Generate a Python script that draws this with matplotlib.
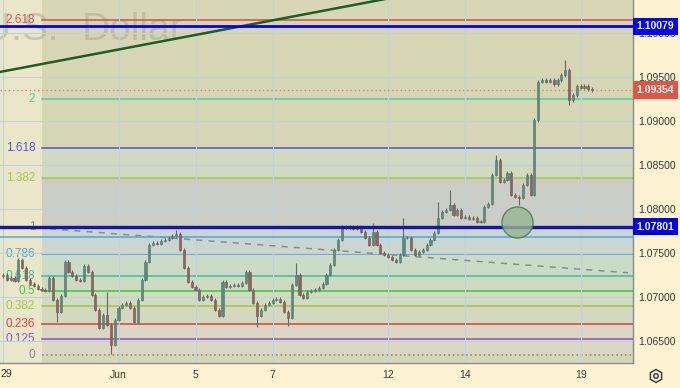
import matplotlib
matplotlib.use("Agg")
import matplotlib.pyplot as plt
import matplotlib.transforms as mtransforms
from matplotlib.patches import RegularPolygon, Circle
import numpy as np

plt.rcParams['font.family'] = ['Liberation Sans', 'DejaVu Sans']

# EUR/USD candles, 10 per trading day
first_open = 1.0724
closes = [
    # May 29
    1.07257, 1.07200, 1.07223, 1.07189, 1.07427, 1.07336, 1.07200, 1.07155, 1.07132, 1.07098,
    # May 30
    1.07087, 1.07075, 1.07223, 1.06973, 1.06837, 1.07018, 1.07404, 1.07291, 1.07245, 1.07200,
    # May 31
    1.07189, 1.07359, 1.07291, 1.07030, 1.06860, 1.06655, 1.06803, 1.06689, 1.06462, 1.06746,
    # Jun 1
    1.06882, 1.06916, 1.06939, 1.06882, 1.06723, 1.06973, 1.07200, 1.07404, 1.07597, 1.07620,
    # Jun 2
    1.07608, 1.07642, 1.07654, 1.07676, 1.07699, 1.07722, 1.07540, 1.07336, 1.07177, 1.07120,
    # Jun 5
    1.07087, 1.06973, 1.07007, 1.07018, 1.06973, 1.06860, 1.06791, 1.07177, 1.07120, 1.07132,
    # Jun 6
    1.07143, 1.07132, 1.07166, 1.07291, 1.07087, 1.06939, 1.06791, 1.06860, 1.06916, 1.06939,
    # Jun 7
    1.06973, 1.06984, 1.06950, 1.06837, 1.06769, 1.07143, 1.07257, 1.07030, 1.06996, 1.07064,
    # Jun 8
    1.07075, 1.07087, 1.07109, 1.07155, 1.07257, 1.07370, 1.07540, 1.07654, 1.07801, 1.07790,
    # Jun 9
    1.07801, 1.07779, 1.07801, 1.07745, 1.07676, 1.07597, 1.07745, 1.07597, 1.07506, 1.07484,
    # Jun 12
    1.07461, 1.07427, 1.07404, 1.07484, 1.07676, 1.07676, 1.07540, 1.07484, 1.07518, 1.07540,
    # Jun 13
    1.07597, 1.07654, 1.07733, 1.07903, 1.07972, 1.07994, 1.08051, 1.07937, 1.07994, 1.07903,
    # Jun 14
    1.07915, 1.07892, 1.07903, 1.07858, 1.07858, 1.08028, 1.08062, 1.08391, 1.08562, 1.08312,
    # Jun 15
    1.08335, 1.08414, 1.08164, 1.08142, 1.08130, 1.08278, 1.08391, 1.08164, 1.09015, 1.09447,
    # Jun 16
    1.09469, 1.09447, 1.09469, 1.09424, 1.09469, 1.09526, 1.09583, 1.09242, 1.09299, 1.09401,
    # Jun 19
    1.09379, 1.09401, 1.09367, 1.09354,
]
extra_high = {27: 1.07064, 45: 1.07767, 76: 1.07393, 96: 1.07847, 104: 1.07903,
              113: 1.08085, 116: 1.08221, 128: 1.08618, 146: 1.09696}
extra_low = {14: 1.06723, 28: 1.0636, 66: 1.06667, 74: 1.06678, 134: 1.08051, 147: 1.09186}

candles_per_day = 10
date_pos = [0, 3, 5, 7, 10, 12, 15]
date_labels = ['29', 'Jun', '5', '7', '12', '14', '19']
price_ticks = [1.065, 1.070, 1.075, 1.080, 1.085, 1.090, 1.095, 1.100]

fib_zero = 1.0635
fib_one = 1.07801
fib_start = 1.0
fib_levels = [0, 0.125, 0.236, 0.382, 0.5, 0.618, 0.786, 1, 1.382, 1.618, 2, 2.618]
fib_labels = ['0', '0.125', '0.236', '0.382', '0.5', '0.618', '0.786', '1', '1.382', '1.618', '2', '2.618']
fib_colors = ['#8a8a8a', '#8d5ccc', '#e04a4a', '#a2c850', '#46c846', '#48c09a', '#4aa8e0',
              '#8a8a8a', '#a2cc50', '#5a5ad0', '#5ad0a0', '#d05a5a']
band_colors = ['#dcd7c3', '#dbd6c3', '#d3d9c1', '#d1dbc0', '#cedbc4', '#ccdac8', '#cad6cf',
               '#cbcdc7', '#d0d9c1', '#d5d6b6', '#d6d6b4']

last_price = 1.09354
resistance = 1.10079
support = 1.07801
minor_line = 1.07691

trend_x = [-0.5, 11.0]
trend_y = [1.09525, 1.10477]
dash_x = [1.22, 16.23]
dash_y = [1.07779, 1.07279]
circle_day, circle_price = 13.36, 1.07858

xlim = (-0.078, 16.36)
ylim = (1.06255, 1.10377)

fig = plt.figure(figsize=(6.8, 3.88), dpi=100, facecolor='#fdf3d2')
ax = fig.add_axes([0, 25 / 388, 633 / 680, 363 / 388])
ax.set_facecolor('#d7d7b5')
ax.set_xlim(*xlim)
ax.set_ylim(*ylim)

# background: light strip left of the fib tool, then the fib bands
ax.axvspan(xlim[0], fib_start, color='#e9e6c9', lw=0, zorder=0)
rng = fib_one - fib_zero
fib_prices = [fib_zero + lv * rng for lv in fib_levels]
xfrac = (fib_start - xlim[0]) / (xlim[1] - xlim[0])
for i in range(len(fib_levels) - 1):
    ax.axhspan(fib_prices[i], fib_prices[i + 1], xmin=xfrac, xmax=1, color=band_colors[i], lw=0, zorder=0)

ax.set_xticks(date_pos)
ax.set_xticklabels([''] + date_labels[1:])
ax.text(0, -0.031, date_labels[0], transform=ax.transAxes, ha='left', va='center',
        fontsize=7.5, color='#333333', clip_on=False)
ax.set_yticks(price_ticks)
ax.set_yticklabels(['%.5f' % p for p in price_ticks])
ax.yaxis.tick_right()
ax.grid(True, color='#c3d2d6', lw=0.8, zorder=0.5)
ax.tick_params(axis='both', length=0, labelsize=7.5, colors='#3a3a3a')
ax.tick_params(axis='y', pad=4)
ax.tick_params(axis='x', pad=5)
for s in ['top', 'left']:
    ax.spines[s].set_visible(False)
for s in ['right', 'bottom']:
    ax.spines[s].set_color('#8a8a8a')
    ax.spines[s].set_linewidth(1)

# watermark, cut at the left edge
ax.text(1.43, 1.09923, 'U.S.', ha='right', va='baseline', fontsize=28,
        color='#a0a08a', alpha=0.45, zorder=0.6, clip_on=True)
ax.text(2.05, 1.09923, 'Dollar', ha='left', va='baseline', fontsize=28,
        color='#a0a08a', alpha=0.45, zorder=0.6, clip_on=True)

# fib lines and labels
for p, lab, col in zip(fib_prices, fib_labels, fib_colors):
    ls = ':' if lab == '0' else '-'
    ax.plot([fib_start, xlim[1]], [p, p], color=col, lw=1.2, ls=ls, zorder=1)
    ax.text(0.84, p, lab, ha='right', va='center', fontsize=8.5, color=col, zorder=1.5)

# candles
c = np.array(closes)
o = np.concatenate([[first_open], c[:-1]])
hi = np.maximum(o, c) + 0.00018
lo = np.minimum(o, c) - 0.00018
for k, v in extra_high.items():
    hi[k] = max(hi[k], v)
for k, v in extra_low.items():
    lo[k] = min(lo[k], v)
x = np.arange(len(c)) / candles_per_day
up = c >= o
body = np.where(np.abs(c - o) < 0.00004, 0.00004, c - o)
ax.vlines(x, lo, hi, color='#666666', lw=0.8, zorder=3)
ax.bar(x[up], body[up], bottom=o[up], width=0.055, color='#5f8a78', edgecolor='#55776a', lw=0.4, zorder=3.5)
ax.bar(x[~up], body[~up], bottom=o[~up], width=0.055, color='#8c6460', edgecolor='#735552', lw=0.4, zorder=3.5)

# drawings
ax.plot(trend_x, trend_y, color='#1e5e22', lw=1.8, zorder=4)
ax.plot(dash_x, dash_y, color='#8c8c8c', lw=1.1, ls=(0, (4, 4)), zorder=2)
ax.axhline(minor_line, color='#4aa8e0', lw=1.1, zorder=2)
ax.axhline(resistance, color='#0000ff', lw=2, zorder=4)
ax.axhline(support, color='#1414b4', lw=2.4, zorder=4)
ax.axhline(last_price, color='#c8906e', lw=1, ls=(0, (1, 2)), zorder=2)
ax.scatter([circle_day], [circle_price], s=500, color='#98b494', alpha=0.8,
           edgecolors='#3f7a3f', linewidths=1, zorder=5)

# price tags on the right axis
trans = mtransforms.blended_transform_factory(ax.transAxes, ax.transData)
for p, fc in [(resistance, '#0000ff'), (support, '#0000e6'), (last_price, '#e05545')]:
    ax.text(1.006, p, '%.5f' % p, transform=trans, ha='left', va='center', fontsize=7.5,
            color='white', fontweight='bold', clip_on=False, zorder=6,
            bbox=dict(boxstyle='square,pad=0.35', fc=fc, ec='none'))

# settings icon in the corner
fig.add_artist(RegularPolygon((656, 12), 6, radius=6.5, fill=False, ec='#444444', lw=1.1, transform=None))
fig.add_artist(Circle((656, 12), 2.2, fill=False, ec='#444444', lw=1.1, transform=None))

fig.savefig('out.png', dpi=100, facecolor=fig.get_facecolor())
